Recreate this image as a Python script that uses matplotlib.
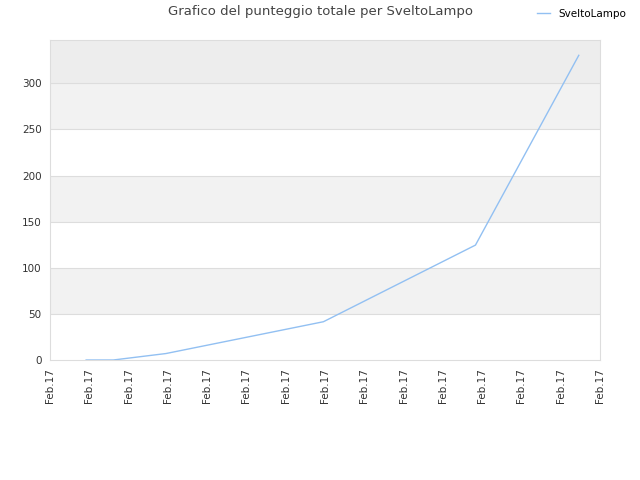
import matplotlib
matplotlib.use("Agg")
import matplotlib.pyplot as plt

title = "Grafico del punteggio totale per SveltoLampo"
series_name = "SveltoLampo"
x_pos = [0.92, 1.61, 2.95, 6.96, 10.83, 13.46]
scores = [0, 0, 7, 41.5, 124.6, 330.4]
tick_labels = ["Feb.17"] * 15
y_ticks = [0, 50, 100, 150, 200, 250, 300]

plt.rcParams['font.family'] = ['DejaVu Sans']
fig = plt.figure(figsize=(6.4, 4.8), dpi=100)
ax = fig.add_axes([50/640, 120/480, 550/640, 320/480])

ymax = 347
band_colors = ['#ffffff', '#f2f2f2', '#ffffff', '#f2f2f2', '#ffffff', '#f2f2f2', '#ededed']
for i, c in enumerate(band_colors):
    lo = i * 50
    hi = min((i + 1) * 50, ymax)
    ax.axhspan(lo, hi, color=c, zorder=0, lw=0)
for yt in y_ticks[1:]:
    ax.axhline(yt, color='#dddddd', lw=0.8, zorder=1)

line, = ax.plot(x_pos, scores, color='#92c0f2', lw=1.0, zorder=3, label=series_name)

ax.set_xlim(0, 14)
ax.set_ylim(0, ymax)
ax.set_xticks(range(len(tick_labels)))
ax.set_xticklabels(tick_labels, rotation=90, fontsize=7.5, color='#333333')
ax.set_yticks(y_ticks)
ax.set_yticklabels([str(v) for v in y_ticks], fontsize=7.5, color='#333333')
ax.tick_params(length=0, pad=6)
for s in ax.spines.values():
    s.set_color('#dddddd')
    s.set_linewidth(0.8)

fig.text(320/640, 1 - 12/480, title, ha='center', va='center', fontsize=9.5, color='#444444')
fig.legend(handles=[line], loc='center left', bbox_to_anchor=(528/640, 1 - 14/480),
           frameon=False, fontsize=7.5, handlelength=1.2, handletextpad=0.8)

fig.savefig("out.png", dpi=100)
